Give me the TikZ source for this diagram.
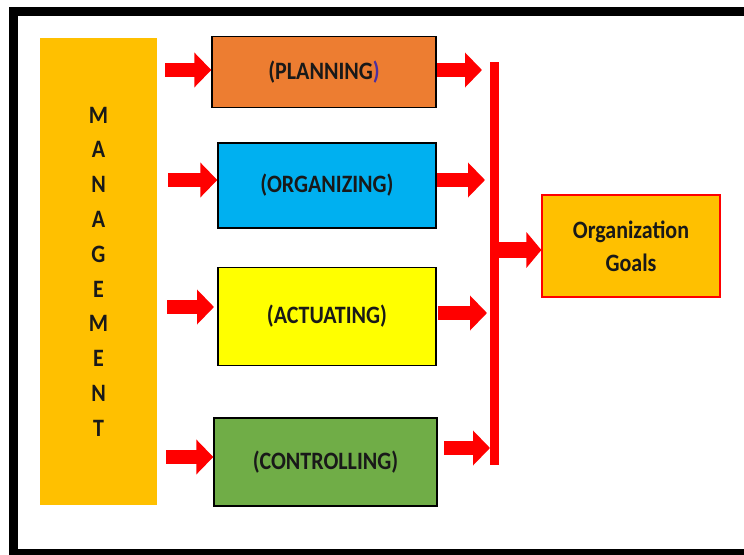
\documentclass[tikz,border=0pt]{standalone}
\usepackage{fontspec}
\setmainfont{Carlito}
\newfontfamily\condfont[FakeStretch=0.88]{Carlito}
\usetikzlibrary{arrows.meta}
\definecolor{gold}{HTML}{FFC000}
\definecolor{planC}{HTML}{ED7D31}
\definecolor{orgC}{HTML}{00B0F0}
\definecolor{actC}{HTML}{FFFF00}
\definecolor{ctrlC}{HTML}{70AD47}
\definecolor{parC}{HTML}{4B2FA0}
\tikzset{
  stagebox/.style={draw=black, line width=1.4pt, inner sep=0pt, font=\condfont\fontsize{25}{28}\selectfont\bfseries, text=black!90},
  blockarrow/.style={draw=red, line width=14pt, -{Triangle[length=17pt,width=34pt]}},
}
\begin{document}
\begin{tikzpicture}[x=1pt,y=-1pt]
\useasboundingbox (0,0) rectangle (744,554);
\clip (0,0) rectangle (744,554);
\fill[white] (0,0) rectangle (744,554);
% outer frame
\draw[line width=9pt] (13.5,11.5) rectangle (770,553.5);
% management
\node[fill=gold, inner sep=0pt, minimum width=117pt, minimum height=467pt, align=center,
      font=\condfont\fontsize{25}{34.8}\selectfont\bfseries, text=black!90] (mgmt) at (98.5,271.5)
  {M\\A\\N\\A\\G\\E\\M\\E\\N\\T};
% stages
\node[stagebox, fill=planC, minimum width=224pt, minimum height=71pt] (plan) at (324,72) {(PLANNING{\color{parC})}};
\node[stagebox, fill=orgC, minimum width=218pt, minimum height=85pt] (org) at (327,185.5) {(ORGANIZING)};
\node[stagebox, fill=actC, minimum width=218pt, minimum height=98pt] (act) at (327,316.5) {(ACTUATING)};
\node[stagebox, fill=ctrlC, minimum width=223pt, minimum height=88pt] (ctrl) at (325.5,462) {(CONTROLLING)};
% red bar
\node[fill=red, inner sep=0pt, minimum width=9pt, minimum height=403pt] (bar) at (494.5,263.5) {};
% goals
\node[draw=red, line width=1.2pt, fill=gold, inner sep=0pt, minimum width=178pt, minimum height=102pt,
      align=center, font=\condfont\fontsize{25}{33}\selectfont\bfseries, text=black!90] (goals) at (631,246) {Organization\\Goals};
% arrow start/end coordinates
\coordinate (p1) at (165,70);  \coordinate (p2) at (437,70);  \coordinate (p3) at (482,70);
\coordinate (o1) at (168,180); \coordinate (o2) at (437,180); \coordinate (o3) at (485,180);
\coordinate (a1) at (167,307); \coordinate (a2) at (438,313); \coordinate (a3) at (487,313);
\coordinate (c1) at (166,457); \coordinate (c2) at (444,448); \coordinate (c3) at (490,448);
\coordinate (g1) at (498,250);
% arrows
\draw[blockarrow] (p1) -- (plan.west |- p1);
\draw[blockarrow] (p2) -- (p3);
\draw[blockarrow] (o1) -- (org.west |- o1);
\draw[blockarrow] (o2) -- (o3);
\draw[blockarrow] (a1) -- (214,307);
\draw[blockarrow] (a2) -- (a3);
\draw[blockarrow] (c1) -- (ctrl.west |- c1);
\draw[blockarrow] (c2) -- (c3);
\draw[blockarrow, line width=16pt, -{Triangle[length=15pt,width=35pt]}] (g1) -- (goals.west |- g1);
\end{tikzpicture}
\end{document}
